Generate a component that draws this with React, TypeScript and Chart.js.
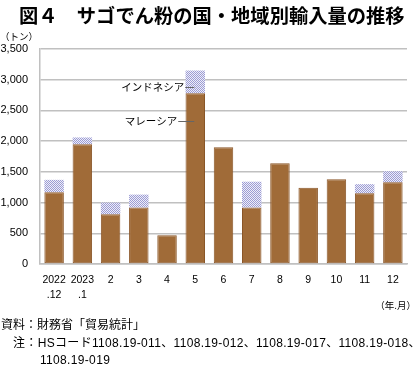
import React, { useEffect, useRef } from "react";
import { Chart, registerables } from "chart.js";

Chart.register(...registerables);

const categories: (string | string[])[] = [
  ["2022", ".12"], ["2023", ".1"], "2", "3", "4", "5", "6", "7", "8", "9", "10", "11", "12",
];
const malaysia = [1170, 1950, 810, 920, 470, 2780, 1900, 920, 1640, 1240, 1380, 1150, 1330];
const indonesia = [200, 110, 190, 210, 0, 370, 0, 420, 0, 0, 0, 150, 180];
const yTicks = [0, 500, 1000, 1500, 2000, 2500, 3000, 3500];
const seriesNames = ["マレーシア", "インドネシア"];
// label anchors: category index of the bar that carries the callouts, and the values they point at
const calloutIndex = 5;
const calloutValues = [2330, 2880];

const FONT_LATIN = "'Liberation Sans', Arial, 'Noto Sans CJK JP', sans-serif";
const FONT_CJK = "'Liberation Sans', 'Noto Sans CJK JP', sans-serif";

function makePattern(): CanvasPattern | string {
  const c = document.createElement("canvas");
  c.width = 4;
  c.height = 4;
  const ctx = c.getContext("2d");
  if (!ctx) return "#c8c8e8";
  ctx.fillStyle = "#EEEEF8";
  ctx.fillRect(0, 0, 4, 4);
  ctx.fillStyle = "#9C9CD4";
  for (let y = 0; y < 4; y++) {
    for (let x = 0; x < 4; x++) {
      if ((x + y) % 2 === 0) ctx.fillRect(x, y, 1, 1);
    }
  }
  const p = ctx.createPattern(c, "repeat");
  return p || "#c8c8e8";
}

const calloutPlugin = {
  id: "callouts",
  afterDatasetsDraw(chart: any) {
    const ctx = chart.ctx as CanvasRenderingContext2D;
    const xs = chart.scales.x;
    const ys = chart.scales.y;
    const cx = xs.getPixelForValue(calloutIndex);
    ctx.save();
    ctx.font = "10.5px 'Noto Sans CJK JP', sans-serif";
    ctx.textAlign = "right";
    ctx.textBaseline = "middle";
    const offsets = [18, 11];
    seriesNames.forEach((name, i) => {
      const y = Math.round(ys.getPixelForValue(calloutValues[i])) + 0.5;
      const textRight = cx - offsets[i];
      ctx.fillStyle = "#000";
      ctx.fillText(name, textRight, y);
      ctx.strokeStyle = "#666";
      ctx.lineWidth = 1;
      ctx.beginPath();
      ctx.moveTo(textRight + 1, y);
      ctx.lineTo(cx - 1, y);
      ctx.stroke();
    });
    ctx.restore();
  },
};

export default function App() {
  const ref = useRef<HTMLCanvasElement | null>(null);

  useEffect(() => {
    if (!ref.current) return;
    const chart = new Chart(ref.current, {
      type: "bar",
      data: {
        labels: categories,
        datasets: [
          {
            label: seriesNames[0],
            data: malaysia,
            backgroundColor: "#A06B38",
            borderColor: "#8A5628",
            borderWidth: 1,
            borderSkipped: false,
            barPercentage: 0.69,
            categoryPercentage: 1,
          },
          {
            label: seriesNames[1],
            data: indonesia,
            backgroundColor: makePattern() as any,
            borderWidth: 0,
            barPercentage: 0.69,
            categoryPercentage: 1,
          },
        ],
      },
      options: {
        responsive: false,
        animation: false,
        layout: { padding: { left: 0, top: 49, right: 13, bottom: 0 } },
        plugins: { legend: { display: false }, tooltip: { enabled: false } },
        scales: {
          x: {
            stacked: true,
            grid: { display: false, drawTicks: false },
            border: { display: true, color: "#C0C0C0", width: 1.5 },
            ticks: {
              color: "#000",
              font: { family: FONT_LATIN, size: 10.5, lineHeight: 1.4 },
              padding: 9,
              maxRotation: 0,
              autoSkip: false,
            },
            afterFit: (scale: any) => {
              scale.height = 108;
            },
          },
          y: {
            stacked: true,
            min: 0,
            max: 3500,
            afterBuildTicks: (scale: any) => {
              scale.ticks = yTicks.map((v) => ({ value: v }));
            },
            grid: { color: "#C0C0C0", lineWidth: 1.5, drawTicks: false },
            border: { display: true, color: "#C0C0C0", width: 1.5 },
            ticks: {
              color: "#000",
              font: { family: FONT_LATIN, size: 11 },
              padding: 12,
              callback: (v: any) => Number(v).toLocaleString("en-US"),
            },
            afterFit: (scale: any) => {
              scale.width = 40;
            },
          },
        },
      },
      plugins: [calloutPlugin],
    });
    return () => chart.destroy();
  }, []);

  return (
    <div
      style={{
        position: "absolute",
        left: 0,
        top: 0,
        width: 420,
        height: 372,
        background: "#fff",
        overflow: "hidden",
        fontFamily: FONT_CJK,
        color: "#000",
      }}
    >
      <canvas ref={ref} width={420} height={372} style={{ position: "absolute", left: 0, top: 0, width: 420, height: 372 }} />
      <div style={{ position: "absolute", left: 19, top: 2, fontSize: 19.3, fontWeight: "bold", whiteSpace: "nowrap", fontFamily: "'Noto Sans CJK JP', sans-serif", lineHeight: "26px" }}>
        図４　サゴでん粉の国・地域別輸入量の推移
      </div>
      <div style={{ position: "absolute", left: 0, top: 29, fontSize: 9.5, whiteSpace: "nowrap", fontFamily: "'Noto Sans CJK JP', sans-serif", lineHeight: "14px" }}>
        （トン）
      </div>
      <div style={{ position: "absolute", right: 4, top: 298, fontSize: 9.5, whiteSpace: "nowrap", fontFamily: "'Noto Sans CJK JP', sans-serif", lineHeight: "14px" }}>
        （年.月）
      </div>
      <div style={{ position: "absolute", left: 1, top: 316, fontSize: 12, whiteSpace: "nowrap", lineHeight: "18px" }}>
        資料：財務省「貿易統計」
      </div>
      <div style={{ position: "absolute", left: 13, top: 334, fontSize: 12, letterSpacing: 0.33, whiteSpace: "nowrap", lineHeight: "18px" }}>
        注：HSコード1108.19-011、1108.19-012、1108.19-017、1108.19-018、
      </div>
      <div style={{ position: "absolute", left: 40, top: 351, fontSize: 12, letterSpacing: 0.33, whiteSpace: "nowrap", lineHeight: "18px" }}>
        1108.19-019
      </div>
    </div>
  );
}
